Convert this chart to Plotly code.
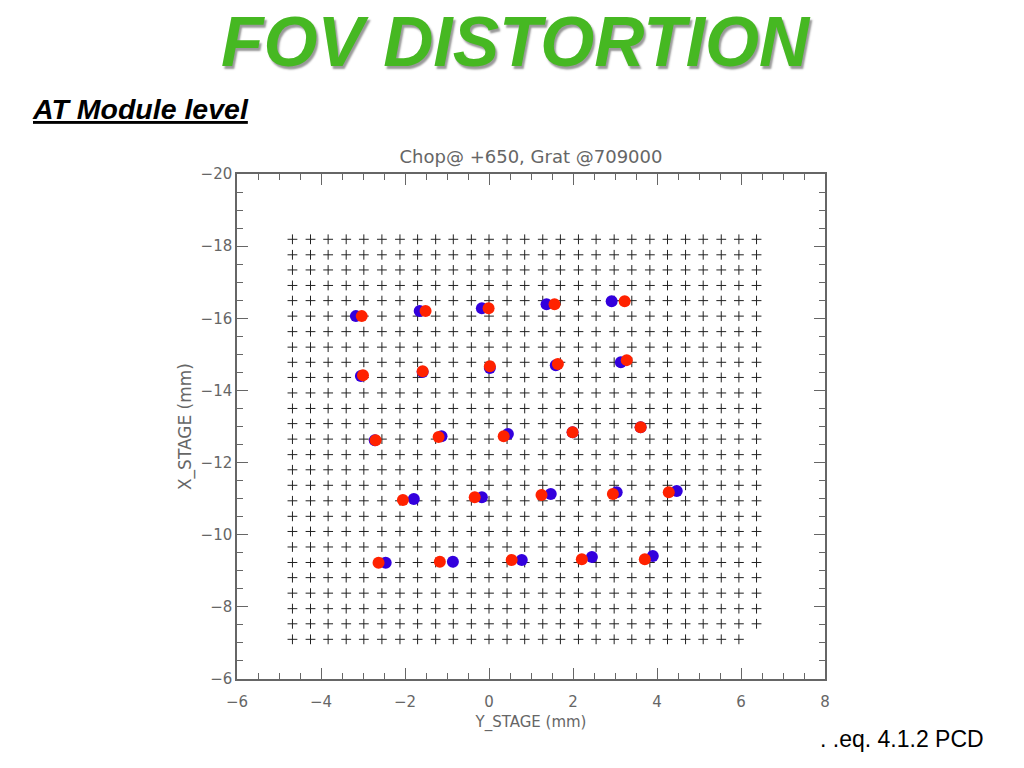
import plotly.graph_objects as go

# stage grid (mm)
grid_y_stage = [-4.68, -4.25, -3.83, -3.40, -2.98, -2.55, -2.12, -1.70, -1.27, -0.85,
                -0.42, 0.00, 0.43, 0.85, 1.28, 1.70, 2.13, 2.55, 2.98, 3.40,
                3.83, 4.25, 4.68, 5.10, 5.53, 5.95, 6.37]
grid_x_stage = [-18.19, -17.76, -17.34, -16.91, -16.49, -16.06, -15.63, -15.20, -14.78, -14.36,
                -13.93, -13.50, -13.08, -12.65, -12.22, -11.80, -11.37, -10.94, -10.51, -10.09,
                -9.66, -9.23, -8.81, -8.38, -7.95, -7.53, -7.10]
# last row stops one column short
last_row_y_stage = grid_y_stage[:-1]

blue_y = [-3.17, -1.65, -0.17, 1.37, 2.92,
          -3.05, -1.58, 0.02, 1.59, 3.14,
          -2.72, -1.13, 0.45, 1.99, 3.61,
          -1.79, -0.17, 1.47, 3.04, 4.47,
          -2.46, -0.86, 0.78, 2.45, 3.90]
blue_x = [-16.06, -16.20, -16.28, -16.39, -16.47,
          -14.40, -14.51, -14.62, -14.70, -14.78,
          -12.62, -12.73, -12.79, -12.84, -12.98,
          -10.99, -11.04, -11.13, -11.18, -11.21,
          -9.22, -9.25, -9.30, -9.38, -9.41]
red_y = [-3.03, -1.51, -0.01, 1.56, 3.23,
         -3.00, -1.58, 0.02, 1.64, 3.28,
         -2.70, -1.20, 0.35, 1.99, 3.61,
         -2.05, -0.34, 1.25, 2.95, 4.28,
         -2.63, -1.17, 0.54, 2.21, 3.71]
red_x = [-16.06, -16.20, -16.28, -16.39, -16.47,
         -14.42, -14.53, -14.67, -14.73, -14.84,
         -12.62, -12.71, -12.73, -12.84, -12.98,
         -10.96, -11.04, -11.10, -11.13, -11.18,
         -9.22, -9.25, -9.30, -9.32, -9.32]

cross_y = []
cross_x = []
for row in grid_x_stage:
    cols = last_row_y_stage if row == grid_x_stage[-1] else grid_y_stage
    for col in cols:
        cross_y.append(col)
        cross_x.append(row)

fig = go.Figure()
fig.add_trace(go.Scatter(x=cross_y, y=cross_x, mode="markers",
                         marker=dict(symbol="cross-thin", size=7, line=dict(width=1, color="#222222"))))
fig.add_trace(go.Scatter(x=blue_y, y=blue_x, mode="markers",
                         marker=dict(symbol="circle", size=12, color="#3300dd")))
fig.add_trace(go.Scatter(x=red_y, y=red_x, mode="markers",
                         marker=dict(symbol="circle", size=12, color="#ff2200")))

axis_font = dict(family="DejaVu Sans", size=15, color="#666666")
axis_style = dict(showgrid=False, zeroline=False, showline=True, linecolor="#666666", linewidth=1.5,
                  mirror="ticks", ticks="inside", ticklen=11, tickwidth=1, tickcolor="#666666",
                  dtick=2, tickfont=axis_font,
                  minor=dict(ticks="inside", ticklen=6, tickwidth=1, tickcolor="#666666", dtick=0.5, showgrid=False))

fig.update_xaxes(range=[-6, 8], tick0=-6, ticklabelstandoff=8,
                 title=dict(text="Y_STAGE (mm)", font=axis_font, standoff=7), **axis_style)
fig.update_yaxes(range=[-6, -20], tick0=-20,
                 title=dict(text="X_STAGE (mm)", font=dict(family="DejaVu Sans", size=17, color="#666666"), standoff=5),
                 **axis_style)

fig.update_layout(
    width=1024, height=768, autosize=False, showlegend=False,
    paper_bgcolor="white", plot_bgcolor="white",
    margin=dict(l=237, r=199, t=174, b=89),
    title=dict(text="Chop@ +650, Grat @709000", x=531 / 1024, xanchor="center", y=1 - 157 / 768, yanchor="middle",
               font=dict(family="DejaVu Sans", size=18, color="#666666")),
)

fig.add_annotation(text="<b><i>FOV DISTORTION</i></b>", xref="paper", yref="paper", x=0.474, y=1.261,
                   showarrow=False, xanchor="center", yanchor="middle",
                   font=dict(family="Liberation Sans", size=69.5, color="#46b822", shadow="2px 3px 2px #999999"))
fig.add_annotation(text="<b><i>AT Module level</i></b>", xref="paper", yref="paper", x=-0.352, y=1.129,
                   showarrow=False, xanchor="left", yanchor="middle",
                   font=dict(family="Liberation Sans", size=28.5, color="black", lineposition="under"))
fig.add_annotation(text=". .eq. 4.1.2 PCD", xref="paper", yref="paper", x=1.2738, y=-0.119,
                   showarrow=False, xanchor="right", yanchor="middle",
                   font=dict(family="Liberation Sans", size=23, color="black"))

fig.write_html("out.html", config=dict(displayModeBar=False), post_script="document.body.style.margin='0';")
